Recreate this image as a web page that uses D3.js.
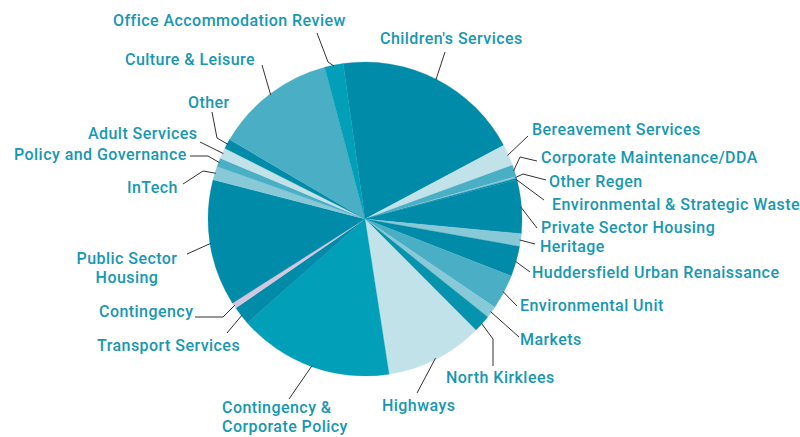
<!DOCTYPE html>
<html>
<head>
<meta charset="utf-8">
<script src="https://cdn.jsdelivr.net/npm/d3@7"></script>
<style>
  body { margin: 0; background: #fff; }
  svg text { font-family: Roboto, "Noto Sans", sans-serif; font-weight: 500; font-size: 16px; letter-spacing: 0.45px; fill: #1797b3; }
</style>
</head>
<body>
<svg id="chart" width="800" height="437"></svg>
<script>
// clockwise from the top, share of the programme (%)
var services = ["Children's Services", "Bereavement Services", "Corporate Maintenance/DDA", "Other Regen",
    "Environmental & Strategic Waste", "Private Sector Housing", "Heritage", "Huddersfield Urban Renaissance",
    "Environmental Unit", "Markets", "North Kirklees", "Highways", "Contingency & Corporate Policy",
    "Transport Services", "Contingency", "Public Sector Housing", "InTech", "Policy and Governance",
    "Adult Services", "Other", "Culture & Leisure", "Office Accommodation Review"];
var shares = [19.4, 2.2, 1.2, 0.17, 0.17, 5.5, 1.3, 3.1,
    3.6, 1.2, 1.8, 10.0, 15.9,
    1.9, 0.6, 13.0, 1.4, 0.9,
    1.1, 1.0, 12.4, 1.9];

// slice colours, same order
var fills = ["#008ba8", "#c1e2e8", "#4aafc5", "#88c9d8", "#008ba8", "#008ba8", "#88c9d8", "#008ba8",
    "#4aafc5", "#88c9d8", "#0693ad", "#c1e2e8", "#019fb8",
    "#008ba8", "#d5c6e0", "#008ba8", "#88c9d8", "#4aafc5",
    "#c1e2e8", "#008ba8", "#4aafc5", "#019fb8"];

// label layout: text position, anchor and leader bend points
var labelLayout = {
    "Children's Services":            { x: 380, y: 44, a: "start", pts: [[445, 52]] },
    "Bereavement Services":           { x: 532, y: 135, a: "start", pts: [[528, 136]] },
    "Corporate Maintenance/DDA":      { x: 541, y: 163, a: "start", pts: [[520, 157], [537, 161]] },
    "Other Regen":                    { x: 549, y: 187, a: "start", pts: [[523, 174], [546, 180]] },
    "Environmental & Strategic Waste":{ x: 552, y: 210, a: "start", pts: [[544, 200]] },
    "Private Sector Housing":         { x: 541, y: 233, a: "start", pts: [[537, 228]] },
    "Heritage":                       { x: 540, y: 252, a: "start", pts: [[535, 244]] },
    "Huddersfield Urban Renaissance": { x: 532, y: 278, a: "start", pts: [[530, 272]] },
    "Environmental Unit":             { x: 520, y: 311, a: "start", pts: [[517, 306]] },
    "Markets":                        { x: 520, y: 345, a: "start", pts: [[519, 337]] },
    "North Kirklees":                 { x: 446, y: 383, a: "start", pts: [[493, 339], [493, 366]] },
    "Highways":                       { x: 382, y: 411, a: "start", pts: [[417, 393]] },
    "Contingency & Corporate Policy": { x: 222, y: 413, a: "start", pts: [[289, 399]], lines: ["Contingency &", "Corporate Policy"] },
    "Transport Services":             { x: 97, y: 351, a: "start", pts: [[227, 333]] },
    "Contingency":                    { x: 99, y: 317, a: "start", pts: [[223, 317], [195, 317]] },
    "Public Sector Housing":          { x: 127, y: 264, a: "middle", pts: [[187, 254]], lines: ["Public Sector", "Housing"] },
    "InTech":                         { x: 127, y: 193, a: "start", pts: [[203, 171], [183, 184]] },
    "Policy and Governance":          { x: 14, y: 160, a: "start", pts: [[208, 156], [190, 156]] },
    "Adult Services":                 { x: 88, y: 139, a: "start", pts: [[200, 142]] },
    "Other":                          { x: 188, y: 108, a: "start", pts: [[217, 138], [212, 112]] },
    "Culture & Leisure":              { x: 125, y: 65, a: "start", pts: [[262, 65]] },
    "Office Accommodation Review":    { x: 113, y: 26, a: "start", pts: [[328, 62], [317, 33]] }
};

var cx = 365, cy = 219, radius = 157;
var svg = d3.select("#chart");
var g = svg.append("g").attr("transform", "translate(" + cx + "," + cy + ")");

var start = -8 * Math.PI / 180;
var pie = d3.pie().sort(null).value(function(d) { return d.v; })
    .startAngle(start).endAngle(start + 2 * Math.PI);
var arc = d3.arc().innerRadius(0).outerRadius(radius);

var data = services.map(function(s, i) { return { name: s, v: shares[i], fill: fills[i] }; });
var arcs = pie(data);

g.selectAll("path.slice")
    .data(arcs)
    .enter().append("path")
    .attr("class", "slice")
    .attr("d", arc)
    .attr("fill", function(d) { return d.data.fill; })
    .attr("stroke", function(d) { return d.data.fill; })
    .attr("stroke-width", 0.3);

// leaders from the rim
var line = d3.line();
svg.selectAll("path.leader")
    .data(arcs)
    .enter().append("path")
    .attr("class", "leader")
    .attr("fill", "none")
    .attr("stroke", "#333")
    .attr("stroke-width", 1)
    .attr("d", function(d) {
        var m = (d.startAngle + d.endAngle) / 2;
        var p0 = [cx + Math.sin(m) * (radius - 1), cy - Math.cos(m) * (radius - 1)];
        return line([p0].concat(labelLayout[d.data.name].pts));
    });

var labels = svg.selectAll("text.lbl")
    .data(arcs)
    .enter().append("text")
    .attr("class", "lbl")
    .attr("x", function(d) { return labelLayout[d.data.name].x; })
    .attr("y", function(d) { return labelLayout[d.data.name].y; })
    .attr("text-anchor", function(d) { return labelLayout[d.data.name].a; });

labels.each(function(d) {
    var L = labelLayout[d.data.name];
    var rows = L.lines || [d.data.name];
    d3.select(this).selectAll("tspan")
        .data(rows)
        .enter().append("tspan")
        .attr("x", L.x)
        .attr("dy", function(r, i) { return i === 0 ? 0 : 19; })
        .text(function(r) { return r; });
});
</script>
</body>
</html>
